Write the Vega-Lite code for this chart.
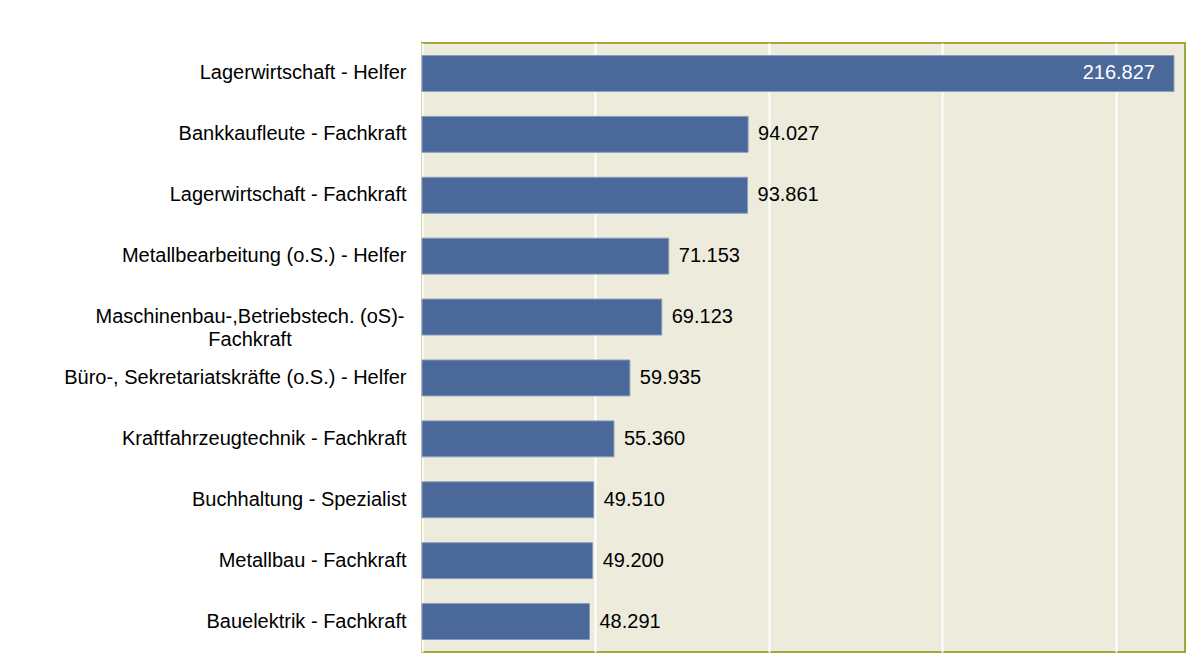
{
  "$schema": "https://vega.github.io/schema/vega-lite/v6.json",
  "autosize": {"type": "none"},
  "width": 763,
  "height": 609,
  "padding": {"left": 422, "top": 43, "right": 18, "bottom": 20},
  "background": "#FFFFFF",
  "config": {
    "locale": {"number": {"decimal": ",", "thousands": ".", "grouping": [3], "currency": ["", " €"]}},
    "view": {"fill": "#EDEBDC", "stroke": "#A3A83A", "strokeWidth": 2},
    "font": "Liberation Sans"
  },
  "data": {
    "values": [
      {"beruf": "Lagerwirtschaft - Helfer", "wert": 216827},
      {"beruf": "Bankkaufleute - Fachkraft", "wert": 94027},
      {"beruf": "Lagerwirtschaft - Fachkraft", "wert": 93861},
      {"beruf": "Metallbearbeitung (o.S.) - Helfer", "wert": 71153},
      {"beruf": "Maschinenbau-,Betriebstech. (oS)-\nFachkraft", "wert": 69123},
      {"beruf": "Büro-, Sekretariatskräfte (o.S.) - Helfer", "wert": 59935},
      {"beruf": "Kraftfahrzeugtechnik - Fachkraft", "wert": 55360},
      {"beruf": "Buchhaltung - Spezialist", "wert": 49510},
      {"beruf": "Metallbau - Fachkraft", "wert": 49200},
      {"beruf": "Bauelektrik - Fachkraft", "wert": 48291}
    ]
  },
  "encoding": {
    "y": {
      "field": "beruf",
      "type": "nominal",
      "sort": null,
      "scale": {"paddingInner": 0.41, "paddingOuter": 0.205},
      "axis": {
        "title": null,
        "domain": false,
        "ticks": false,
        "labelPadding": 16,
        "labelFontSize": 20,
        "labelColor": "#000000",
        "labelFont": "Liberation Sans",
        "labelLimit": 500,
        "labelExpr": "indexof(datum.label, '\\n') >= 0 ? '' : datum.label"
      }
    }
  },
  "layer": [
    {
      "mark": {"type": "bar", "color": "#4A6899", "stroke": "#8A9CBD", "strokeWidth": 1},
      "encoding": {
        "x": {
          "field": "wert",
          "type": "quantitative",
          "scale": {"domain": [0, 220000], "nice": false},
          "axis": {
            "title": null,
            "labels": false,
            "ticks": false,
            "domain": false,
            "values": [0, 50000, 100000, 150000, 200000],
            "grid": true,
            "gridColor": "#FFFFFF",
            "gridWidth": 2,
            "gridOpacity": 1
          }
        }
      }
    },
    {
      "transform": [{"filter": "datum.wert < 200000"}],
      "mark": {"type": "text", "align": "left", "baseline": "middle", "dx": 10, "fontSize": 20, "color": "#000000"},
      "encoding": {
        "x": {"field": "wert", "type": "quantitative"},
        "text": {"field": "wert", "type": "quantitative", "format": ",d"}
      }
    },
    {
      "transform": [{"filter": "datum.wert >= 200000"}],
      "mark": {"type": "text", "align": "right", "baseline": "middle", "dx": -19, "fontSize": 20, "color": "#FFFFFF"},
      "encoding": {
        "x": {"field": "wert", "type": "quantitative"},
        "text": {"field": "wert", "type": "quantitative", "format": ",d"}
      }
    },
    {
      "transform": [{"filter": "indexof(datum.beruf, '\\n') >= 0"}],
      "mark": {"type": "text", "align": "center", "baseline": "middle", "dx": -172, "fontSize": 20, "lineBreak": "\n", "lineHeight": 23, "color": "#000000"},
      "encoding": {
        "x": {"datum": 0},
        "text": {"field": "beruf", "type": "nominal"}
      }
    }
  ]
}
